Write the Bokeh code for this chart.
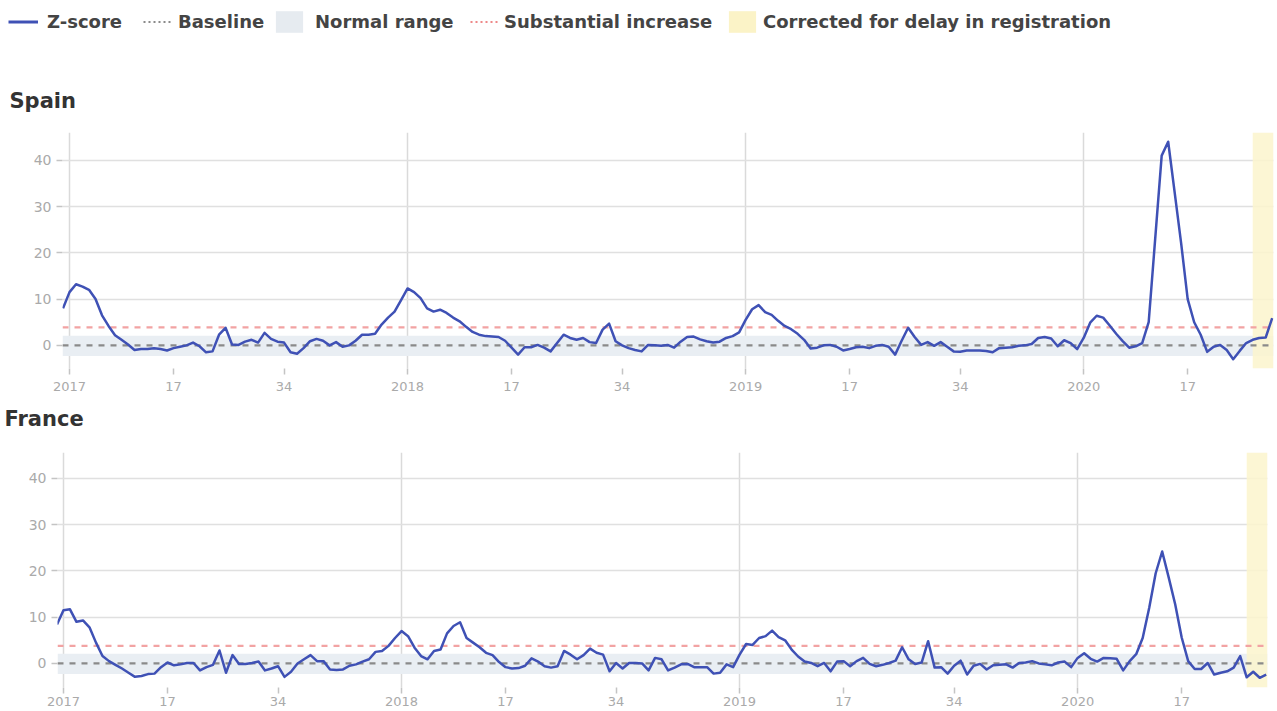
from bokeh.plotting import figure
from bokeh.models import (Legend, LegendItem, BoxAnnotation, Span, FixedTicker,
                          Range1d, ColumnDataSource, Label)
from bokeh.layouts import column
from bokeh.embed import file_html
from bokeh.resources import INLINE

# ---------------- data ----------------
# week index: 0 = ISO week 1 of 2017, -1 = last week of 2016, 185 = 2020 week 30
weeks = list(range(-1, 186))

spain_z = [
    8.0, 11.5, 13.2, 12.7, 12.0, 10.0, 6.5, 4.2, 2.2, 1.2, 0.2,
    -1.0, -0.8, -0.8, -0.6, -0.8, -1.1, -0.6, -0.3, 0.0, 0.6,
    -0.2, -1.5, -1.3, 2.3, 3.8, 0.2, 0.1, 0.8, 1.2, 0.6,
    2.7, 1.4, 0.8, 0.6, -1.5, -1.8, -0.6, 0.9, 1.4, 1.0,
    0.0, 0.7, -0.3, 0.0, 1.0, 2.3, 2.3, 2.5, 4.5, 6.0,
    7.3, 9.8, 12.3, 11.5, 10.2, 8.0, 7.3, 7.7, 7.0, 6.0,
    5.2, 4.0, 2.9, 2.3, 2.0, 1.9, 1.8, 1.0, -0.5, -2.0,
    -0.4, -0.4, 0.1, -0.5, -1.3, 0.5, 2.3, 1.6, 1.2, 1.6,
    0.7, 0.5, 3.4, 4.7, 0.9, 0.0, -0.6, -1.0, -1.3, 0.1,
    0.0, -0.1, 0.1, -0.5, 0.8, 1.8, 1.9, 1.3, 0.9, 0.6,
    0.8, 1.6, 2.0, 2.8, 5.5, 7.8, 8.7, 7.2, 6.6, 5.3,
    4.2, 3.5, 2.5, 1.2, -0.7, -0.5, 0.0, 0.1, -0.3, -1.1,
    -0.8, -0.4, -0.3, -0.6, -0.1, 0.1, -0.3, -2.0, 1.0, 3.8,
    1.8, 0.1, 0.7, -0.1, 0.7, -0.3, -1.3, -1.4, -1.1, -1.1,
    -1.1, -1.2, -1.5, -0.6, -0.5, -0.4, -0.1, 0.0, 0.3, 1.6,
    1.8, 1.5, -0.2, 1.1, 0.5, -0.8, 1.6, 4.9, 6.4, 6.0,
    4.3, 2.5, 0.9, -0.5, -0.2, 0.5, 5.0, 23.0, 41.0, 44.0,
    33.0, 22.0, 10.0, 5.0, 2.3, -1.4, -0.3, 0.1, -1.0, -3.0,
    -1.2, 0.5, 1.2, 1.6, 1.7, 5.9,
]

france_z = [
    8.4, 11.5, 11.7, 9.0, 9.3, 7.8, 4.5, 1.6, 0.5, -0.3, -1.1,
    -2.0, -2.9, -2.7, -2.3, -2.2, -0.8, 0.2, -0.4, -0.2, 0.1,
    0.1, -1.5, -0.8, -0.3, 2.8, -2.0, 1.8, -0.1, -0.1, 0.1,
    0.4, -1.5, -1.1, -0.6, -2.9, -1.8, 0.0, 0.9, 1.8, 0.5,
    0.5, -1.3, -1.4, -1.3, -0.5, -0.2, 0.4, 0.9, 2.5, 2.7,
    3.8, 5.5, 7.0, 5.9, 3.4, 1.6, 0.9, 2.7, 3.0, 6.5,
    8.1, 8.9, 5.5, 4.5, 3.5, 2.3, 1.8, 0.3, -0.8, -1.1,
    -1.0, -0.5, 1.1, 0.4, -0.6, -0.9, -0.6, 2.7, 1.9, 0.9,
    1.8, 3.2, 2.3, 1.9, -1.7, 0.1, -1.1, 0.1, 0.1, 0.0,
    -1.5, 1.2, 0.9, -1.5, -0.9, -0.2, -0.1, -0.8, -0.8, -0.8,
    -2.2, -2.0, -0.2, -0.8, 1.9, 4.2, 4.0, 5.5, 5.9, 7.1,
    5.7, 5.0, 3.0, 1.5, 0.4, 0.1, -0.6, 0.1, -1.7, 0.4,
    0.5, -0.6, 0.5, 1.2, -0.1, -0.6, -0.3, 0.1, 0.6, 3.5,
    0.9, -0.1, 0.2, 4.8, -0.9, -0.8, -2.2, -0.5, 0.6, -2.4,
    -0.5, -0.1, -1.3, -0.4, -0.3, -0.2, -0.9, 0.1, 0.2, 0.5,
    0.0, -0.2, -0.4, 0.2, 0.4, -0.8, 1.2, 2.2, 1.0, 0.4,
    1.2, 1.1, 1.0, -1.5, 0.5, 2.0, 5.5, 12.0, 19.5, 24.2,
    18.6, 12.8, 5.6, 0.5, -1.2, -1.2, 0.1, -2.4, -2.0, -1.7,
    -0.9, 1.6, -3.0, -1.8, -3.1, -2.4,
]

tick_positions = [0, 16, 33, 52, 68, 85, 104, 120, 137, 156, 172]
tick_labels = ["2017", "17", "34", "2018", "17", "34", "2019", "17", "34", "2020", "17"]
year_positions = [0, 52, 104, 156]
y_ticks = [0, 10, 20, 30, 40]

baseline = 0
normal_low = -2.3
normal_high = 2.1
substantial = {"Spain": 3.9, "France": 3.8}
corrected_from = 182   # weeks corrected for delay in registration: 182 onwards

legend_labels = ["Z-score", "Baseline", "Normal range", "Substantial increase",
                 "Corrected for delay in registration"]

# ---------------- styling ----------------
BLUE = "#3f51b5"
GREY_DASH = "#8a8a8a"
RED_DASH = "#f2a3a3"
NORMAL_FILL = "#e9eef3"
YELLOW_FILL = "#fbf4cc"
FONT = "DejaVu Sans"
W = 1277


def blank(height):
    f = figure(width=W, height=height, x_range=Range1d(0, 1), y_range=Range1d(0, 1),
               output_backend="svg", toolbar_location=None, outline_line_color=None,
               x_axis_location=None, y_axis_location=None, frame_align=False,
               min_border_left=0, min_border_right=0, min_border_top=0,
               min_border_bottom=0)
    f.grid.visible = False
    return f


def title_strip(name, height, x, y):
    f = blank(height)
    f.add_layout(Label(x=x, y=y, x_units="screen", y_units="screen", text=name,
                       text_font=FONT, text_font_style="bold", text_font_size="21px",
                       text_color="#333333", text_baseline="middle", text_align="left"))
    return f


def panel(name, values, height, border_top, border_bottom, border_left, border_right,
          xr, yr, xlabel_standoff):
    p = figure(width=W, height=height, x_range=Range1d(*xr), y_range=Range1d(*yr),
               output_backend="svg", toolbar_location=None, frame_align=False,
               min_border_top=border_top, min_border_bottom=border_bottom,
               min_border_left=border_left, min_border_right=border_right,
               outline_line_color=None)

    # background annotations
    p.add_layout(BoxAnnotation(bottom=normal_low, top=normal_high, fill_color=NORMAL_FILL,
                               fill_alpha=1.0, line_color=None, level="underlay"))
    p.add_layout(BoxAnnotation(left=corrected_from, fill_color=YELLOW_FILL,
                               fill_alpha=0.85, line_color=None, level="underlay"))
    p.add_layout(Span(location=baseline, dimension="width", line_color=GREY_DASH,
                      line_width=2.2, line_dash="6 6", level="underlay"))
    p.add_layout(Span(location=substantial[name], dimension="width", line_color=RED_DASH,
                      line_width=2.2, line_dash="6 6", level="underlay"))

    src = ColumnDataSource(data=dict(week=weeks, z=values))
    p.line(x="week", y="z", source=src, line_color=BLUE, line_width=2.5,
           line_join="round")

    # axes
    p.xaxis.ticker = FixedTicker(ticks=tick_positions)
    p.xaxis.major_label_overrides = {t: l for t, l in zip(tick_positions, tick_labels)}
    p.yaxis.ticker = FixedTicker(ticks=y_ticks)
    for ax in (p.xaxis[0], p.yaxis[0]):
        ax.axis_line_color = None
        ax.major_tick_line_color = "#c4c4c4"
        ax.major_tick_line_width = 1.5
        ax.major_tick_in = 0
        ax.major_tick_out = 6
        ax.minor_tick_line_color = None
        ax.major_label_text_color = "#aaaaaa"
        ax.major_label_text_font = FONT
    p.xaxis.major_label_text_font_size = "13px"
    p.xaxis.major_label_standoff = xlabel_standoff
    p.yaxis.major_label_text_font_size = "14px"
    p.yaxis.major_label_standoff = 5

    p.xgrid.ticker = FixedTicker(ticks=year_positions)
    p.xgrid.grid_line_color = "#dadada"
    p.xgrid.grid_line_width = 1.5
    p.ygrid.grid_line_color = "#e0e0e0"
    p.ygrid.grid_line_width = 1.5
    return p


# ---------------- legend strip ----------------
lg = blank(80)
off_x = [-10, -9]
off_y = [-10, -10]
r_z = lg.line(x=off_x, y=off_y, line_color=BLUE, line_width=3)
r_b = lg.line(x=off_x, y=off_y, line_color=GREY_DASH, line_width=2, line_dash="2 3")
r_n = lg.quad(left=[-10], right=[-9], top=[-9], bottom=[-10], fill_color="#e6ebf0",
              line_color=None)
r_s = lg.line(x=off_x, y=off_y, line_color="#ee8888", line_width=2, line_dash="2 3")
r_c = lg.quad(left=[-10], right=[-9], top=[-9], bottom=[-10], fill_color="#fbf3c7",
              line_color=None)
# (glyph start x, glyph width, label standoff) for each legend entry
legend_layout = [(8, 30, 9), (143, 30, 5), (272, 34, 9), (470, 28, 6), (725, 34, 4)]
for label, rend, (gx, gw, so) in zip(legend_labels, [r_z, r_b, r_n, r_s, r_c],
                                      legend_layout):
    lg.add_layout(Legend(items=[LegendItem(label=label, renderers=[rend])],
                         orientation="horizontal", location=(gx, 45),
                         glyph_width=gw, glyph_height=27, label_standoff=so,
                         padding=0, margin=0, border_line_color=None,
                         background_fill_alpha=0, label_text_font=FONT,
                         label_text_font_style="bold", label_text_font_size="18px",
                         label_text_color="#444444", label_height=22), "center")

spain_title = title_strip("Spain", 38, 9, 18)
spain = panel("Spain", spain_z, 278, 14, 28, 62, 4, (-1.08, 185.2), (-5, 46), 7)
france_title = title_strip("France", 42, 4, 20)
france = panel("France", france_z, 273, 14, 24, 57, 10, (-0.92, 185.2), (-5.2, 45.6), 3)

layout = column(lg, spain_title, spain, france_title, france, spacing=0)
open("out.html", "w").write(file_html(layout, INLINE))
